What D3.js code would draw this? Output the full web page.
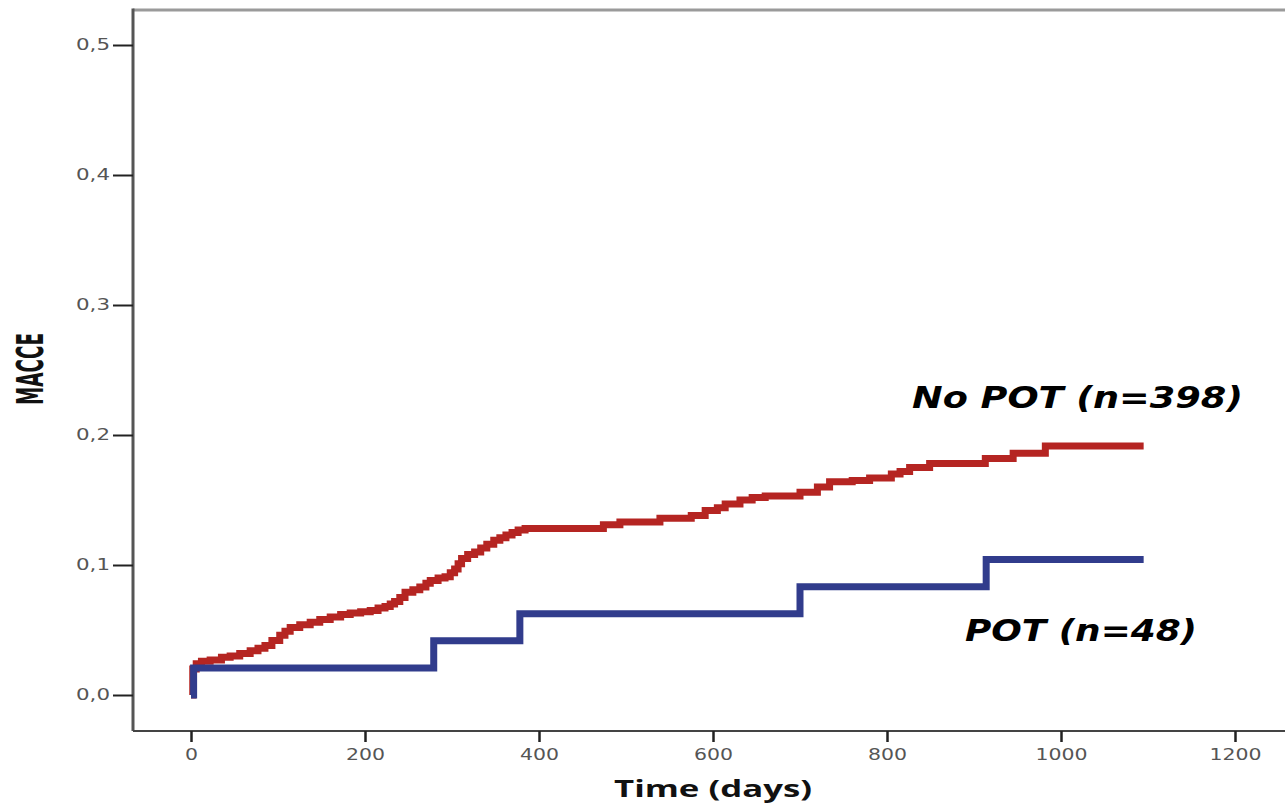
<!DOCTYPE html>
<html>
<head>
<meta charset="utf-8">
<script src="https://cdn.jsdelivr.net/npm/d3@7"></script>
<style>
  body { margin: 0; background: #fff; }
</style>
</head>
<body>
<svg id="chart" width="1285" height="806"></svg>
<script>
// Cumulative MACCE, step curves (day, proportion)
const noPotDays = [0, 2, 6, 12, 22, 35, 45, 56, 68, 77, 85, 93, 102, 108, 114, 125, 137, 148, 160, 172, 183, 195, 206, 215, 223, 229, 234, 240, 246, 255, 263, 270, 275, 284, 292, 298, 303, 307, 311, 318, 326, 333, 340, 348, 355, 362, 369, 376, 384, 474, 493, 539, 575, 591, 605, 614, 631, 645, 660, 700, 720, 734, 760, 780, 805, 815, 826, 849, 913, 945, 982, 1095];
const noPotValues = [0, 0.020, 0.024, 0.026, 0.027, 0.029, 0.030, 0.032, 0.034, 0.036, 0.038, 0.042, 0.046, 0.049, 0.052, 0.054, 0.056, 0.058, 0.060, 0.062, 0.063, 0.064, 0.065, 0.067, 0.068, 0.070, 0.072, 0.075, 0.079, 0.081, 0.083, 0.086, 0.088, 0.090, 0.091, 0.094, 0.097, 0.101, 0.105, 0.108, 0.110, 0.113, 0.116, 0.119, 0.121, 0.123, 0.125, 0.127, 0.128, 0.131, 0.133, 0.136, 0.138, 0.142, 0.144, 0.147, 0.150, 0.152, 0.153, 0.156, 0.160, 0.164, 0.165, 0.167, 0.170, 0.172, 0.175, 0.178, 0.182, 0.186, 0.1915, 0.1915];
const potDays = [0, 3, 279, 378, 700, 914, 1095];
const potValues = [0, 0.0208, 0.0417, 0.0625, 0.0833, 0.1042, 0.1042];

const xTicks = [0, 200, 400, 600, 800, 1000, 1200];
const yTicks = [0, 0.1, 0.2, 0.3, 0.4, 0.5];

const svg = d3.select("#chart");

const x = d3.scaleLinear().domain([0, 1200]).range([191, 1235]);
const y = d3.scaleLinear().domain([0, 0.5]).range([695, 45]);

const frameLeft = 133, frameTop = 10, frameBottom = 731;

// frame: top line (lighter), left and bottom axis lines
svg.append("line")
    .attr("x1", frameLeft).attr("x2", 1285)
    .attr("y1", frameTop).attr("y2", frameTop)
    .attr("stroke", "#9a9a9a").attr("stroke-width", 3);
svg.append("line")
    .attr("x1", frameLeft).attr("x2", frameLeft)
    .attr("y1", frameTop - 1.5).attr("y2", frameBottom)
    .attr("stroke", "#555").attr("stroke-width", 3);
svg.append("line")
    .attr("x1", frameLeft).attr("x2", 1285)
    .attr("y1", frameBottom).attr("y2", frameBottom)
    .attr("stroke", "#444").attr("stroke-width", 2);

// y axis
const yAxis = svg.append("g")
    .attr("transform", `translate(${frameLeft},0)`)
    .call(d3.axisLeft(y).tickValues(yTicks).tickSize(20).tickPadding(3)
        .tickFormat(d => d.toFixed(1).replace(".", ",")));
yAxis.select(".domain").remove();
yAxis.selectAll(".tick line").attr("stroke", "#222").attr("stroke-width", 2);
yAxis.selectAll(".tick text")
    .attr("font-family", "DejaVu Sans, Verdana, sans-serif")
    .attr("font-size", 15).attr("fill", "#555")
    .attr("textLength", 34).attr("lengthAdjust", "spacingAndGlyphs");

// x axis
const xAxis = svg.append("g")
    .attr("transform", `translate(0,${frameBottom})`)
    .call(d3.axisBottom(x).tickValues(xTicks).tickSize(11).tickPadding(7)
        .tickFormat(d3.format("d")));
xAxis.select(".domain").remove();
xAxis.selectAll(".tick line").attr("stroke", "#222").attr("stroke-width", 2.5);
xAxis.selectAll(".tick text")
    .attr("font-family", "DejaVu Sans, sans-serif")
    .attr("font-size", 16).attr("fill", "#555")
    .each(function (d) {
        const n = String(d).length;
        d3.select(this).attr("textLength", n * 13).attr("lengthAdjust", "spacingAndGlyphs");
    });

// axis titles
svg.append("text")
    .attr("x", 713).attr("y", 797)
    .attr("text-anchor", "middle")
    .attr("font-family", "Open Sans, sans-serif")
    .attr("font-weight", "bold")
    .attr("font-size", 24)
    .attr("textLength", 198).attr("lengthAdjust", "spacingAndGlyphs")
    .attr("fill", "#111")
    .text("Time (days)");

svg.append("text")
    .attr("transform", "translate(43,369) rotate(-90)")
    .attr("text-anchor", "middle")
    .attr("font-family", "DejaVu Sans Condensed, DejaVu Sans, sans-serif")
    .attr("font-weight", "bold")
    .attr("font-size", 37)
    .attr("textLength", 72).attr("lengthAdjust", "spacingAndGlyphs")
    .attr("fill", "#111")
    .text("MACCE");

// curves
const line = d3.line()
    .x(d => x(d[0]))
    .y(d => y(d[1]))
    .curve(d3.curveStepAfter);

svg.append("path")
    .datum(d3.zip(noPotDays, noPotValues))
    .attr("d", line)
    .attr("fill", "none")
    .attr("stroke", "#b52522")
    .attr("stroke-width", 7)
    .attr("stroke-linejoin", "miter");

svg.append("path")
    .datum(d3.zip(potDays, potValues))
    .attr("d", line)
    .attr("fill", "none")
    .attr("stroke", "#313c8c")
    .attr("stroke-width", 7)
    .attr("stroke-linejoin", "miter");

// group labels
svg.append("text")
    .attr("x", 912).attr("y", 408)
    .attr("font-family", "DejaVu Sans, Verdana, sans-serif")
    .attr("font-weight", "bold").attr("font-style", "italic")
    .attr("font-size", 31)
    .attr("textLength", 331).attr("lengthAdjust", "spacingAndGlyphs")
    .attr("fill", "#000")
    .text("No POT (n=398)");

svg.append("text")
    .attr("x", 965).attr("y", 641)
    .attr("font-family", "DejaVu Sans, Verdana, sans-serif")
    .attr("font-weight", "bold").attr("font-style", "italic")
    .attr("font-size", 31)
    .attr("textLength", 232).attr("lengthAdjust", "spacingAndGlyphs")
    .attr("fill", "#000")
    .text("POT (n=48)");
</script>
</body>
</html>
